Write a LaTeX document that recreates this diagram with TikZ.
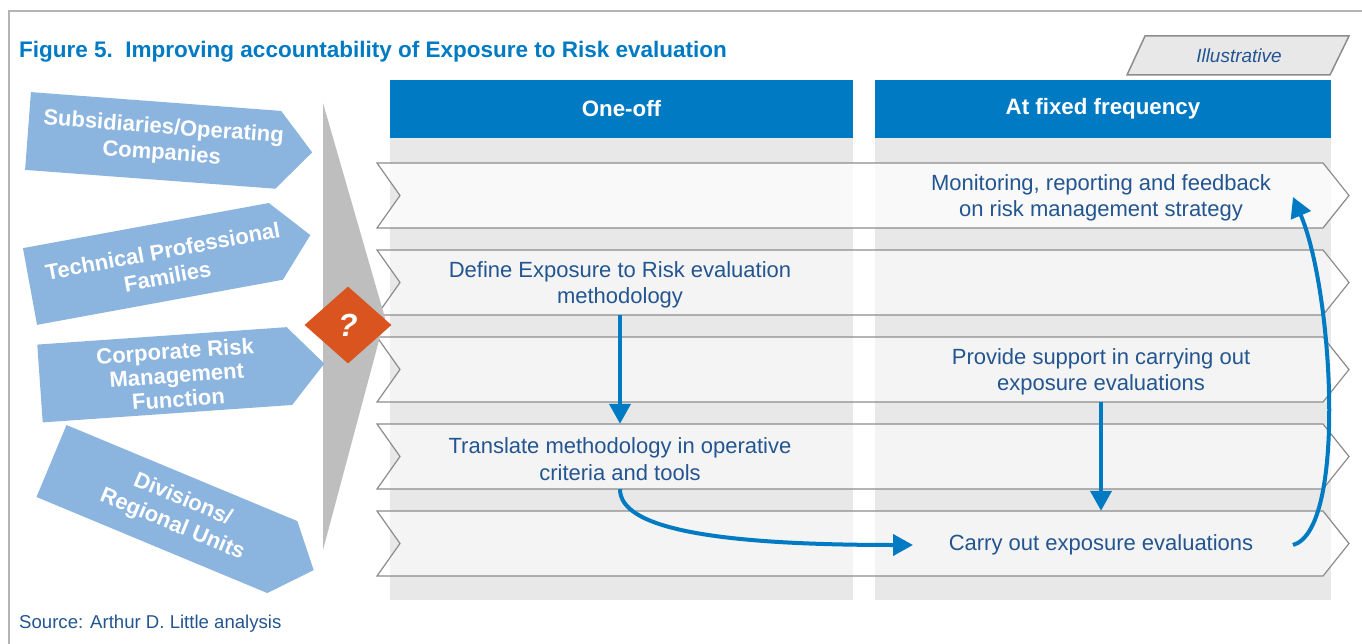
\documentclass[tikz,border=0pt]{standalone}
\usepackage{fontspec}
\setmainfont{Liberation Sans}
\usetikzlibrary{arrows.meta,shapes.geometric,calc}
\definecolor{hblue}{RGB}{0,122,194}
\definecolor{tblue}{RGB}{35,85,145}
\definecolor{lblue}{RGB}{139,181,222}
\definecolor{colbg}{RGB}{232,232,232}
\definecolor{chevline}{RGB}{140,140,140}
\definecolor{tri}{RGB}{190,190,190}
\definecolor{qorange}{RGB}{217,84,31}
\definecolor{framec}{RGB}{180,180,180}
\begin{document}
\begin{tikzpicture}[x=1pt,y=-1pt,
  chev/.style={draw=chevline, line width=1.2pt, fill=white},
  rowtext/.style={text=tblue, font=\fontsize{22}{26.5}\selectfont, align=center, minimum height=65pt, inner sep=0pt},
  header/.style={fill=hblue, text=white, font=\bfseries\fontsize{22.3}{26}\selectfont, minimum height=58pt, inner sep=0pt},
  unit/.style={text=white, font=\bfseries\fontsize{22}{26}\selectfont, align=center, inner sep=0pt},
  unitshape/.style={fill=lblue},
  flow/.style={draw=hblue, line width=4pt, -{Triangle[width=21pt,length=20pt]}},
]
\useasboundingbox (0,0) rectangle (1362,644);
% frame
\draw[framec, line width=2.5pt] (9,650) -- (9,11) -- (1370,11);
% title
\node[anchor=base west, text=hblue, font=\bfseries\fontsize{22.5}{26}\selectfont, inner sep=0pt] (title) at (19,58) {Figure 5.\ \ Improving accountability of Exposure to Risk evaluation};
% illustrative tag
\draw[fill=colbg, draw=chevline, line width=1.5pt] (1145,36) -- (1349,36) -- (1330,75) -- (1127,75) -- cycle;
\node[text=tblue, font=\itshape\fontsize{19}{22}\selectfont, inner sep=0pt] (illus) at (1239,56) {Illustrative};
% columns
\fill[colbg] (390,138) rectangle (853,600);
\fill[colbg] (875,138) rectangle (1331,600);
\node[header, minimum width=463pt] (h1) at (621.5,109) {One-off};
\node[header, minimum width=456pt] (h2) at (1103,109) {At fixed frequency};
% chevron rows
\foreach \t/\op in {163/0.75,250/0.55,337/0.55,424/0.55,511/0.55}{
  \draw[chev, fill opacity=\op] (377,\t) -- (1323,\t) -- (1349,\t+32.5) -- (1323,\t+65) -- (377,\t+65) -- (400,\t+32.5) -- cycle;
}
% gray funnel
\fill[tri] (323,103) -- (385,318) -- (323,550) -- cycle;
% left units
\begin{scope}[shift={(28,131)}, rotate=-4.3]
  \fill[unitshape] (0,-39) -- (251,-39) -- (285,0) -- (251,39) -- (0,39) -- cycle;
  \node[unit, rotate=-4.3] (subs) at (135,0) {Subsidiaries/Operating\\Companies};
\end{scope}
\begin{scope}[shift={(30,286.5)}, rotate=10.4]
  \fill[unitshape] (0,-39) -- (250,-39) -- (285,0) -- (250,39) -- (0,39) -- cycle;
  \node[unit, rotate=10.4] (tech) at (137,2) {Technical Professional\\Families};
\end{scope}
\begin{scope}[shift={(40,383.5)}, rotate=4.0]
  \fill[unitshape] (0,-39) -- (250,-39) -- (285,0) -- (250,39) -- (0,39) -- cycle;
  \node[unit, rotate=4.0, font=\bfseries\fontsize{22}{24}\selectfont] (corp) at (137,1) {Corporate Risk\\Management\\Function};
\end{scope}
\begin{scope}[shift={(51.5,461)}, rotate=-22.6]
  \fill[unitshape] (0,-39) -- (250,-39) -- (284,0) -- (250,39) -- (0,39) -- cycle;
  \node[unit, rotate=-22.6, font=\bfseries\fontsize{22}{27}\selectfont] (divs) at (136,-1) {Divisions/\\Regional Units};
\end{scope}
% question diamond
\node[diamond, aspect=1.13, fill=qorange, minimum width=87pt, minimum height=77pt, inner sep=0pt, text=white, font=\bfseries\itshape\fontsize{32}{32}\selectfont] (q) at (348,325) {?};
% row texts
\node[rowtext] (mon) at (1101,198) {Monitoring, reporting and feedback\\on risk management strategy};
\node[rowtext] (def) at (620,285) {Define Exposure to Risk evaluation\\methodology};
\node[rowtext] (supp) at (1101,372) {Provide support in carrying out\\exposure evaluations};
\node[rowtext] (trans) at (620,459) {Translate methodology in operative\\criteria and tools};
\node[rowtext] (carry) at (1101,545) {Carry out exposure evaluations};
% source
\node[anchor=base west, text=tblue, font=\fontsize{18.6}{22}\selectfont, inner sep=0pt] (src) at (19,628) {Source: Arthur D. Little analysis};
% connectors
\draw[flow] ($(def.south)+(0,-2.5)$) -- ($(trans.north)+(0,-2.5)$);
\draw[flow] ($(supp.south)+(0,-2.5)$) -- ($(carry.north)+(0,-1.5)$);
\draw[flow] ($(trans.south)+(0,-2.5)$) .. controls ($(trans.south)+(0,36)$) and ($(carry.center)+(-390,0)$) .. ($(carry.center)+(-188,0)$);
\draw[flow] ($(carry.center)+(192,0)$) .. controls ($(carry.center)+(246,-15)$) and ($(mon.center)+(232,92)$) .. ($(mon.center)+(192,-1)$);
\end{tikzpicture}
\end{document}
